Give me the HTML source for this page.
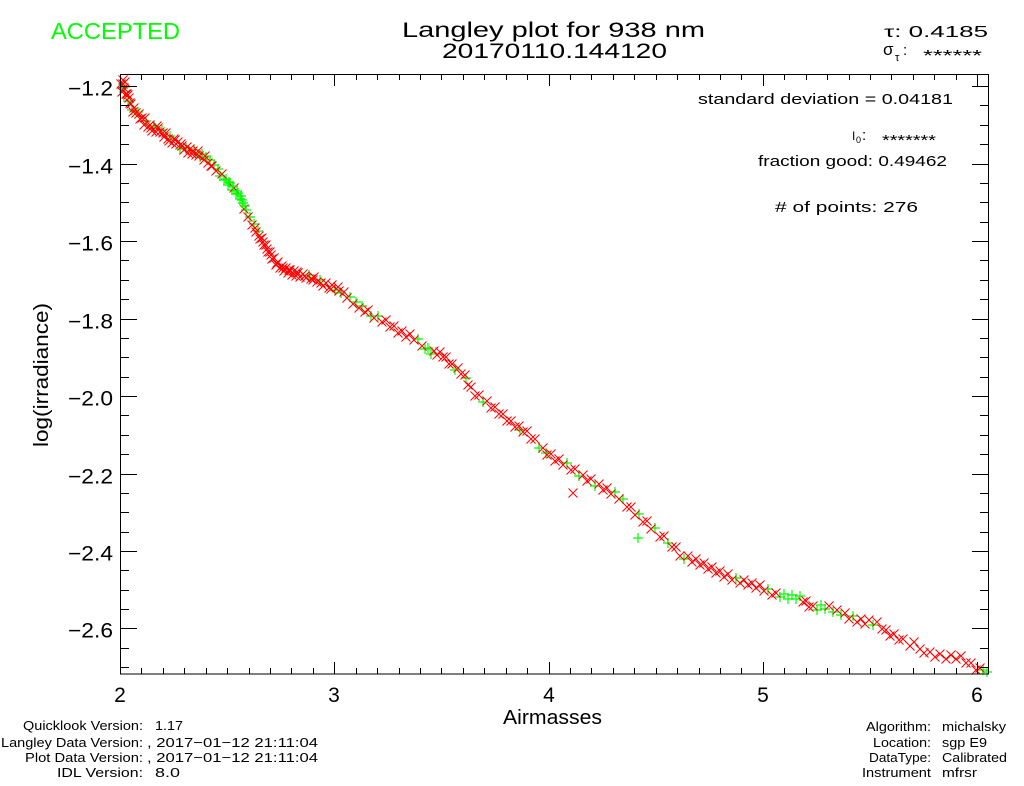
<!DOCTYPE html>
<html><head><meta charset="utf-8"><style>
html,body{margin:0;padding:0;background:#fff;}
svg{display:block;}
text{font-family:"Liberation Sans","DejaVu Sans",sans-serif;fill:#000;}
</style></head><body>
<svg width="1024" height="786" viewBox="0 0 1024 786" xmlns="http://www.w3.org/2000/svg">
<defs>
<marker id="mx" viewBox="-6 -6 12 12" refX="0" refY="0" markerWidth="12" markerHeight="12" markerUnits="userSpaceOnUse" overflow="visible"><path d="M-4.5 -4.5L4.5 4.5M4.5 -4.5L-4.5 4.5" stroke="#ff0000" stroke-width="1" fill="none"/></marker>
<marker id="mp" viewBox="-6 -6 12 12" refX="0" refY="0" markerWidth="12" markerHeight="12" markerUnits="userSpaceOnUse" overflow="visible"><path d="M-5 0H5M0 -5V5" stroke="#00ff00" stroke-width="1.2" fill="none"/></marker>
</defs>
<rect width="1024" height="786" fill="#fff"/>

<!-- header texts -->
<text x="51" y="39" font-size="23" textLength="129" lengthAdjust="spacingAndGlyphs" style="fill:#00ff00">ACCEPTED</text>
<text x="402" y="37" font-size="21" textLength="303" lengthAdjust="spacingAndGlyphs">Langley plot for 938 nm</text>
<text x="442" y="58" font-size="21" textLength="225" lengthAdjust="spacingAndGlyphs">20170110.144120</text>
<text x="884" y="37" font-size="16" textLength="104" lengthAdjust="spacingAndGlyphs">τ: 0.4185</text>
<text x="883" y="55" font-size="17">σ</text>
<text x="895" y="61" font-size="11">τ</text>
<text x="903" y="55" font-size="15">:</text>
<text x="923" y="61" font-size="16" textLength="59" lengthAdjust="spacingAndGlyphs">******</text>

<!-- plot data -->
<polyline fill="none" stroke="none" marker-start="url(#mp)" marker-mid="url(#mp)" marker-end="url(#mp)" points="122,88 125,87 128,101 132,110 138,112 146,121 154,126 162,130 170,136 180,149 186,148 194,150 200,157 202,154 206,157 210,160 214,165 218,169 220,176 224,180 226,179 228,185 230,183 232,190 236,194 238,193 240,199 242,200 246,210 250,217 254,224 258,231 309,275 320,280 335,290 341,293 350,297 356,302 362,306 371,316 378,316 418,339 425,349 428,348 431,354 455,370 466,378 483,402 520,430 539,448 546,453 567,463 579,476 595,486 615,492 623,499 639,514 655,528 668,543 684,559 736,578 768,589 780,597 784,594 788,599 792,595 796,599 800,596 817,610 821,605 825,609 833,612 841,615 853,616 873,625 983,670 987,672 638,538"/>
<polyline fill="none" stroke="none" marker-start="url(#mx)" marker-mid="url(#mx)" marker-end="url(#mx)" points="121,84 123,80 125,82 122,92 123,84 124,88 126,94 127,94 129,98 130,103 131,104 134,108 136,113 140,119 142,118 144,125 148,127 150,125 152,131 156,132 158,128 160,132 164,137 166,133 168,139 172,143 174,139 176,144 178,142 182,146 184,150 188,153 190,149 192,154 196,155 198,151 204,160 208,163 212,166 216,171 222,174 234,188 244,209 248,217 252,225 256,232 260,239 262,238 264,245 266,245 268,252 270,252 272,259 274,258 276,265 278,262 280,268 282,266 284,271 286,268 288,273 290,270 292,275 294,271 296,276 298,273 300,277 303,274 306,278 311,279 314,277 317,282 323,286 326,283 329,288 332,285 338,287 344,292 347,298 353,304 359,308 365,312 368,310 374,318 382,322 386,320 390,327 394,326 398,333 402,331 406,337 410,334 414,340 422,346 434,351 437,355 440,352 443,357 446,357 449,364 452,364 458,368 461,374 465,375 468,385 471,387 475,396 479,395 487,401 491,408 495,407 499,414 503,414 507,421 511,421 515,427 519,426 523,432 527,431 531,439 535,439 543,448 547,455 551,454 555,461 559,459 563,465 571,470 575,469 583,475 587,481 591,479 599,484 603,490 607,488 611,494 619,499 627,507 631,507 635,515 643,522 647,521 651,529 660,537 664,536 672,547 676,547 680,556 688,556 692,562 696,559 700,565 704,563 708,569 712,567 716,573 720,571 724,577 728,574 732,580 740,583 744,580 748,585 752,583 756,588 760,585 764,591 772,595 776,593 803,602 806,601 809,607 813,606 829,606 837,610 845,613 849,619 857,622 861,619 865,624 869,620 877,622 882,629 886,630 890,636 894,634 899,640 903,639 910,646 914,642 920,649 924,653 930,652 935,657 940,654 946,659 951,655 956,659 961,656 966,663 971,663 976,670 980,668 573,493 128,95 133,112 139,114 145,118 151,128 157,126 163,133 169,141 175,140 181,144 187,147 193,151 199,156 205,156 211,166 255,228 259,236 263,242 267,249 271,255 277,263 283,268 289,270 297,272 305,276 313,280 321,283 331,289 339,291"/>
<polyline fill="none" stroke="none" marker-start="url(#mp)" marker-mid="url(#mp)" marker-end="url(#mp)" points="229,182 233,186 237,191 241,196 243,203 245,206"/>

<!-- axes box -->
<rect x="120.5" y="74.5" width="868" height="599.5" fill="none" stroke="#000" stroke-width="1" shape-rendering="crispEdges"/>
<g stroke="#000" stroke-width="1" fill="none" shape-rendering="crispEdges">
<path d="M120 86.5h17M120 105.5h9M120 125.5h9M120 144.5h9M120 164.5h17M120 183.5h9M120 202.5h9M120 222.5h9M120 241.5h17M120 260.5h9M120 280.5h9M120 299.5h9M120 319.5h17M120 338.5h9M120 357.5h9M120 377.5h9M120 396.5h17M120 415.5h9M120 435.5h9M120 454.5h9M120 474.5h17M120 493.5h9M120 512.5h9M120 532.5h9M120 551.5h17M120 570.5h9M120 590.5h9M120 609.5h9M120 628.5h17M120 648.5h9M120 667.5h9"/>
<path d="M989 86.5h-17M989 105.5h-9M989 125.5h-9M989 144.5h-9M989 164.5h-17M989 183.5h-9M989 202.5h-9M989 222.5h-9M989 241.5h-17M989 260.5h-9M989 280.5h-9M989 299.5h-9M989 319.5h-17M989 338.5h-9M989 357.5h-9M989 377.5h-9M989 396.5h-17M989 415.5h-9M989 435.5h-9M989 454.5h-9M989 474.5h-17M989 493.5h-9M989 512.5h-9M989 532.5h-9M989 551.5h-17M989 570.5h-9M989 590.5h-9M989 609.5h-9M989 628.5h-17M989 648.5h-9M989 667.5h-9"/>
<path d="M120.5 674v-12M141.5 674v-6M163.5 674v-6M184.5 674v-6M206.5 674v-6M227.5 674v-6M249.5 674v-6M270.5 674v-6M291.5 674v-6M313.5 674v-6M334.5 674v-12M356.5 674v-6M377.5 674v-6M399.5 674v-6M420.5 674v-6M441.5 674v-6M463.5 674v-6M484.5 674v-6M506.5 674v-6M527.5 674v-6M549.5 674v-12M570.5 674v-6M591.5 674v-6M613.5 674v-6M634.5 674v-6M656.5 674v-6M677.5 674v-6M699.5 674v-6M720.5 674v-6M741.5 674v-6M763.5 674v-12M784.5 674v-6M806.5 674v-6M827.5 674v-6M849.5 674v-6M870.5 674v-6M891.5 674v-6M913.5 674v-6M934.5 674v-6M956.5 674v-6M977.5 674v-12"/>
<path d="M120.5 74v12M141.5 74v6M163.5 74v6M184.5 74v6M206.5 74v6M227.5 74v6M249.5 74v6M270.5 74v6M291.5 74v6M313.5 74v6M334.5 74v12M356.5 74v6M377.5 74v6M399.5 74v6M420.5 74v6M441.5 74v6M463.5 74v6M484.5 74v6M506.5 74v6M527.5 74v6M549.5 74v12M570.5 74v6M591.5 74v6M613.5 74v6M634.5 74v6M656.5 74v6M677.5 74v6M699.5 74v6M720.5 74v6M741.5 74v6M763.5 74v12M784.5 74v6M806.5 74v6M827.5 74v6M849.5 74v6M870.5 74v6M891.5 74v6M913.5 74v6M934.5 74v6M956.5 74v6M977.5 74v12"/>
</g>

<!-- y tick labels -->
<g font-size="21">
<text x="68" y="95.5" textLength="45" lengthAdjust="spacingAndGlyphs">−1.2</text>
<text x="68" y="173.5" textLength="45" lengthAdjust="spacingAndGlyphs">−1.4</text>
<text x="68" y="250.5" textLength="45" lengthAdjust="spacingAndGlyphs">−1.6</text>
<text x="68" y="328.5" textLength="45" lengthAdjust="spacingAndGlyphs">−1.8</text>
<text x="68" y="405.5" textLength="45" lengthAdjust="spacingAndGlyphs">−2.0</text>
<text x="68" y="483.5" textLength="45" lengthAdjust="spacingAndGlyphs">−2.2</text>
<text x="68" y="560.5" textLength="45" lengthAdjust="spacingAndGlyphs">−2.4</text>
<text x="68" y="637.5" textLength="45" lengthAdjust="spacingAndGlyphs">−2.6</text>
</g>
<!-- x tick labels -->
<g font-size="21" text-anchor="middle">
<text x="120" y="702">2</text>
<text x="334" y="702">3</text>
<text x="549" y="702">4</text>
<text x="763" y="702">5</text>
<text x="977" y="702">6</text>
</g>
<text x="503" y="724" font-size="20" textLength="99" lengthAdjust="spacingAndGlyphs">Airmasses</text>
<text transform="translate(48,375) rotate(-90)" x="0" y="0" font-size="20" text-anchor="middle" textLength="144" lengthAdjust="spacingAndGlyphs">log(irradiance)</text>

<!-- inside-plot stats -->
<g font-size="15">
<text x="698" y="104" textLength="255" lengthAdjust="spacingAndGlyphs">standard deviation  =  0.04181</text>
<text x="852" y="140" font-size="12">I</text>
<text x="856" y="143" font-size="9">0</text>
<text x="862" y="140">:</text>
<text x="882" y="145" font-size="15" textLength="54" lengthAdjust="spacingAndGlyphs">*******</text>
<text x="758" y="166" textLength="189" lengthAdjust="spacingAndGlyphs">fraction good: 0.49462</text>
<text x="775" y="212" textLength="143" lengthAdjust="spacingAndGlyphs"># of points:  276</text>
</g>

<!-- bottom left info -->
<g font-size="13">
<text x="23" y="730" textLength="120" lengthAdjust="spacingAndGlyphs">Quicklook Version:</text>
<text x="155" y="730" textLength="28" lengthAdjust="spacingAndGlyphs">1.17</text>
<text x="1" y="747" textLength="142" lengthAdjust="spacingAndGlyphs">Langley Data Version:</text>
<text x="147" y="747" textLength="171" lengthAdjust="spacingAndGlyphs">, 2017−01−12 21:11:04</text>
<text x="25" y="762" textLength="118" lengthAdjust="spacingAndGlyphs">Plot Data Version:</text>
<text x="147" y="762" textLength="171" lengthAdjust="spacingAndGlyphs">, 2017−01−12 21:11:04</text>
<text x="57" y="777" textLength="86" lengthAdjust="spacingAndGlyphs">IDL Version:</text>
<text x="155" y="777" textLength="25" lengthAdjust="spacingAndGlyphs">8.0</text>
</g>
<!-- bottom right info -->
<g font-size="13">
<text x="866" y="731" textLength="65" lengthAdjust="spacingAndGlyphs">Algorithm:</text>
<text x="942" y="731" textLength="64" lengthAdjust="spacingAndGlyphs">michalsky</text>
<text x="873" y="747" textLength="58" lengthAdjust="spacingAndGlyphs">Location:</text>
<text x="942" y="747" textLength="45" lengthAdjust="spacingAndGlyphs">sgp E9</text>
<text x="869" y="762" textLength="62" lengthAdjust="spacingAndGlyphs">DataType:</text>
<text x="942" y="762" textLength="65" lengthAdjust="spacingAndGlyphs">Calibrated</text>
<text x="862" y="777" textLength="69" lengthAdjust="spacingAndGlyphs">Instrument</text>
<text x="942" y="777" textLength="35" lengthAdjust="spacingAndGlyphs">mfrsr</text>
</g>
</svg>
</body></html>
